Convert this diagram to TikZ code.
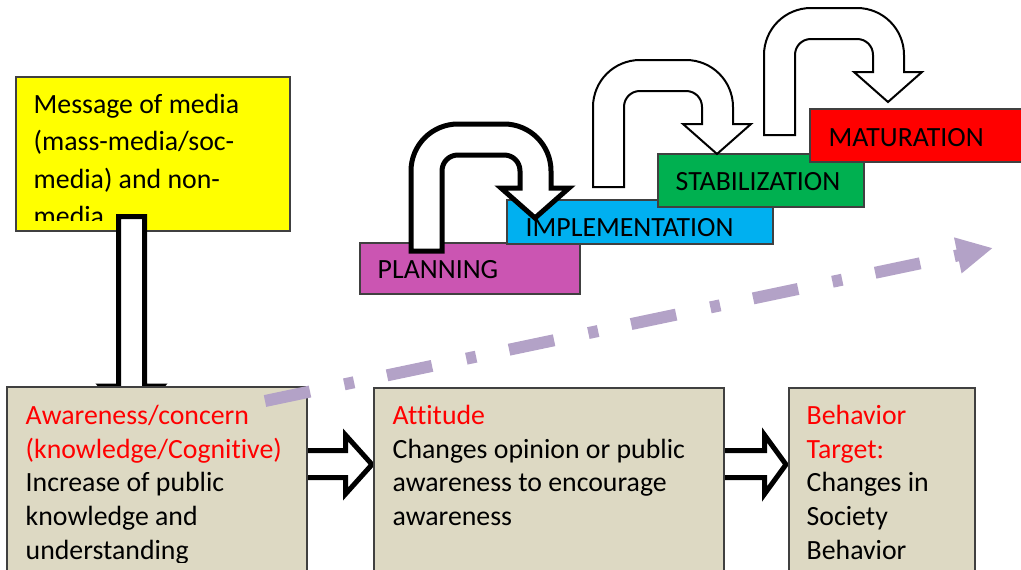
\documentclass[tikz,border=0pt]{standalone}
\usepackage{fontspec}
\setmainfont{Carlito}[Ligatures=NoCommon]
\usetikzlibrary{arrows.meta}
\definecolor{ylw}{HTML}{FFFF00}
\definecolor{tanbg}{HTML}{DDD9C3}
\definecolor{plancol}{HTML}{CB55B2}
\definecolor{implcol}{HTML}{00B0F0}
\definecolor{stabcol}{HTML}{00B050}
\definecolor{matucol}{HTML}{FF0000}
\definecolor{lav}{HTML}{B3A2C7}
\definecolor{edgecol}{HTML}{404040}
\newcommand\uturnarrow[3]{%
  \draw[#3, shift={(#1,#2)}] (0,127) -- (0,47) .. controls (0,21) and (21,0) .. (47,0)
    -- (93,0) .. controls (119,0) and (140,21) .. (140,47) -- (140,64) -- (158,64)
    -- (124,94) -- (90,64) -- (109,64) -- (109,47) .. controls (109,38) and (102,31) .. (93,31)
    -- (47,31) .. controls (38,31) and (31,38) .. (31,47) -- (31,127) -- cycle;}
\begin{document}
\begin{tikzpicture}[x=1pt,y=-1pt,
  txt/.style={anchor=base west, inner sep=0pt, font=\fontsize{27.8}{34}\selectfont, text=black},
  redtxt/.style={txt, text=red},
  framebox/.style={draw=edgecol, line width=1.2pt},
  blockarrow/.style={draw=black, fill=white, line width=5pt, line join=miter},
  uthick/.style={draw=black, fill=white, line width=5pt},
  uthin/.style={draw=black, fill=white, line width=2pt},
]
\useasboundingbox (0,0) rectangle (1021,570);
\clip (0,0) rectangle (1021,570);

% yellow message box
\draw[framebox, fill=ylw] (16,77) rectangle (290,231);
\begin{scope}
  \clip (16,77) rectangle (290,220);
  \node[txt] (m1) at (33.5,113) {Message of media};
  \node[txt] (m2) at (33.5,150.5) {(mass-media/soc-};
  \node[txt] (m3) at (33.5,188) {media) and non-};
  \node[txt] (m4) at (33.5,225.5) {media};
\end{scope}

% down block arrow
\draw[blockarrow] (118.5,216.5) -- (144.5,216.5) -- (144.5,386) -- (162,386) -- (131.5,420) -- (101,386) -- (118.5,386) -- cycle;

% right block arrows
\draw[blockarrow] (300,450.5) -- (345.5,450.5) -- (345.5,435) -- (372,464.5) -- (345.5,494) -- (345.5,477.5) -- (300,477.5) -- cycle;
\draw[blockarrow] (718,450.5) -- (764.5,450.5) -- (764.5,435) -- (786,464.5) -- (764.5,494) -- (764.5,477.5) -- (718,477.5) -- cycle;

% bottom boxes
\draw[framebox, fill=tanbg] (7,387) rectangle (307,580);
\draw[framebox, fill=tanbg] (374,388) rectangle (724,580);
\draw[framebox, fill=tanbg] (789,388) rectangle (975,580);

\begin{scope}
  \clip (0,0) rectangle (1021,562);
  \node[redtxt] (a1) at (25.5,424) {Awareness/concern};
  \node[redtxt] (a2) at (25.5,458) {(knowledge/Cognitive)};
  \node[txt] (a3) at (25.5,491) {Increase of public};
  \node[txt] (a4) at (25.5,525) {knowledge and};
  \node[txt] (a5) at (25.5,559) {understanding};
  \node[redtxt] (t1) at (392.5,424) {Attitude};
  \node[txt] (t2) at (392.5,458) {Changes opinion or public};
  \node[txt] (t3) at (392.5,491) {awareness to encourage};
  \node[txt] (t4) at (392.5,525) {awareness};
  \node[redtxt] (b1) at (806.5,424) {Behavior};
  \node[redtxt] (b2) at (806.5,458) {Target:};
  \node[txt] (b3) at (806.5,491) {Changes in};
  \node[txt] (b4) at (806.5,525) {Society};
  \node[txt] (b5) at (806.5,559) {Behavior};
\end{scope}

% stair boxes
\draw[framebox, fill=plancol] (360,243) rectangle (580,294);
\draw[framebox, fill=implcol] (507,200) rectangle (773,244);
\draw[framebox, fill=stabcol] (658,154) rectangle (864,207);
\draw[framebox, fill=matucol] (810,109) rectangle (1030,162);
\node[txt] (pl) at (377.5,278) {PLANNING};
\node[txt] (im) at (525.5,236) {IMPLEMENTATION};
\node[txt] (st) at (675.5,190) {STABILIZATION};
\node[txt] (ma) at (828.5,146) {MATURATION};

% u-turn arrows
\uturnarrow{411}{124}{uthick}
\uturnarrow{593}{60}{uthin}
\uturnarrow{764}{8}{uthin}

% dash-dot trend arrow
\coordinate (dstart) at (265,401);
\coordinate (dend) at (993,248);
\draw[lav, line width=12pt, dash pattern=on 46pt off 35pt on 10pt off 33.7pt,
  -{Triangle[length=36pt,width=34pt]}] (dstart) -- (dend);
\end{tikzpicture}
\end{document}
